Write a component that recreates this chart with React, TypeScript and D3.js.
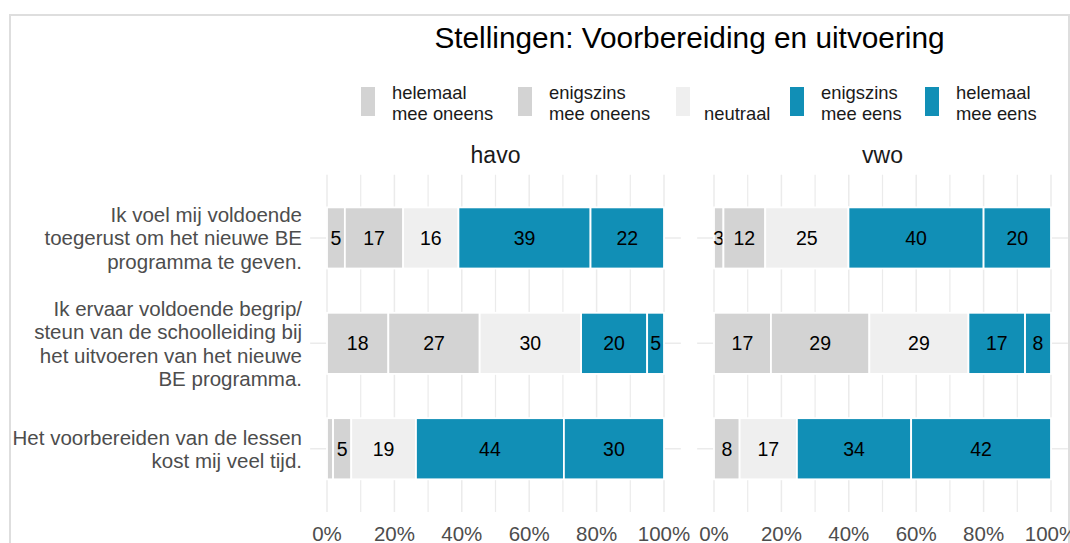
import React from "react";
import * as d3 from "d3";

// ---------- data ----------
const levels = [
  "helemaal mee oneens",
  "enigszins mee oneens",
  "neutraal",
  "enigszins mee eens",
  "helemaal mee eens",
];
const legendLabels = [
  ["helemaal", "mee oneens"],
  ["enigszins", "mee oneens"],
  ["", "neutraal"],
  ["enigszins", "mee eens"],
  ["helemaal", "mee eens"],
];
const levelColors = ["#d3d3d3", "#d3d3d3", "#efefef", "#118fb6", "#118fb6"];

const statements = ["s1", "s2", "s3"];
const statementLines = [
  ["Ik voel mij voldoende", "toegerust om het nieuwe BE", "programma te geven."],
  [
    "Ik ervaar voldoende begrip/",
    "steun van de schoolleiding bij",
    "het uitvoeren van het nieuwe",
    "BE programma.",
  ],
  ["Het voorbereiden van de lessen", "kost mij veel tijd."],
];

const facets = ["havo", "vwo"];
const havoValues = [
  [5.3, 17.3, 16.4, 39.2, 21.8],
  [18.2, 27.1, 30.1, 19.6, 5.0],
  [1.8, 5.4, 19.2, 43.9, 29.7],
];
const vwoValues = [
  [2.8, 12.4, 24.7, 40.1, 20.0],
  [16.9, 29.2, 29.4, 16.8, 7.7],
  [0, 7.6, 17.0, 33.9, 41.5],
];
const facetValues = [havoValues, vwoValues];

const xTicks = [0, 20, 40, 60, 80, 100];
const xMinorTicks = [10, 30, 50, 70, 90];
const title = "Stellingen: Voorbereiding en uitvoering";

// ---------- layout ----------
const W = 1070;
const H = 543;
const FONT = "'Liberation Sans', Arial, Helvetica, sans-serif";
const panelTop = 174.7;
const panelBottom = 512;
const facetRanges: [number, number][] = [
  [327, 664],
  [714, 1051],
];
const legendX = [361, 518, 676, 790, 925];
const gridColor = "#ebebeb";

export default function App() {
  const y = d3
    .scalePoint<string>()
    .domain(statements)
    .range([panelTop, panelBottom])
    .padding(0.6);
  const barH = y.step() * 0.58;

  return (
    <svg
      width={W}
      height={H}
      style={{ position: "absolute", left: 0, top: 0, background: "#fff" }}
      fontFamily={FONT}
    >
      <rect x={0} y={0} width={W} height={H} fill="#fff" />
      <rect x={10} y={15} width={1059} height={560} fill="none" stroke="#dedede" strokeWidth={2} />

      {/* title */}
      <text x={689.5} y={37} textAnchor="middle" dominantBaseline="central" fontSize={29.8} fill="#000">
        {title}
      </text>

      {/* legend */}
      {levels.map((lv, i) => (
        <g key={lv}>
          <rect x={legendX[i]} y={87} width={14} height={29} fill={levelColors[i]} />
          {legendLabels[i].map((t, j) => (
            <text
              key={j}
              x={legendX[i] + (i === 2 ? 28 : 31)}
              y={92 + j * 21}
              dominantBaseline="central"
              fontSize={18.4}
              fill="#1a1a1a"
            >
              {t}
            </text>
          ))}
        </g>
      ))}

      {/* y labels */}
      {statements.map((s, i) => {
        const lines = statementLines[i];
        const cy = y(s)!;
        return lines.map((ln, j) => (
          <text
            key={s + j}
            x={302}
            y={cy + (j - (lines.length - 1) / 2) * 23.5}
            textAnchor="end"
            dominantBaseline="central"
            fontSize={20.5}
            fill="#4d4d4d"
          >
            {ln}
          </text>
        ));
      })}

      {facets.map((f, fi) => {
        const x = d3.scaleLinear().domain([0, 100]).range(facetRanges[fi]);
        const left = x(-5);
        const right = x(105);
        const vals = facetValues[fi];
        return (
          <g key={f}>
            <text
              x={(left + right) / 2}
              y={155}
              textAnchor="middle"
              dominantBaseline="central"
              fontSize={23}
              fill="#1a1a1a"
            >
              {f}
            </text>
            {xMinorTicks.map((t) => (
              <line key={"m" + t} x1={x(t)} x2={x(t)} y1={panelTop} y2={panelBottom} stroke={gridColor} strokeWidth={1.2} />
            ))}
            {xTicks.map((t) => (
              <line key={"M" + t} x1={x(t)} x2={x(t)} y1={panelTop} y2={panelBottom} stroke={gridColor} strokeWidth={1.5} />
            ))}
            {statements.map((s) => (
              <line key={"h" + s} x1={left} x2={right} y1={y(s)} y2={y(s)} stroke={gridColor} strokeWidth={1.5} />
            ))}
            {statements.map((s, si) => {
              const row = vals[si];
              const total = d3.sum(row);
              const cum = d3.cumsum(row);
              return row.map((v, li) => {
                if (v <= 0) return null;
                const x0 = x(((cum[li] - v) / total) * 100);
                const x1 = x((cum[li] / total) * 100);
                const cy = y(s)!;
                return (
                  <g key={s + li}>
                    <rect
                      x={x0}
                      y={cy - barH / 2}
                      width={x1 - x0}
                      height={barH}
                      fill={levelColors[li]}
                      stroke="#fff"
                      strokeWidth={1.8}
                    />
                    {v >= 2.5 && (
                      <text
                        x={(x0 + x1) / 2}
                        y={cy}
                        textAnchor="middle"
                        dominantBaseline="central"
                        fontSize={19.5}
                        fill="#000"
                      >
                        {Math.round(v)}
                      </text>
                    )}
                  </g>
                );
              });
            })}
            {xTicks.map((t) => (
              <text
                key={"t" + t}
                x={x(t)}
                y={533}
                textAnchor="middle"
                dominantBaseline="central"
                fontSize={20.5}
                fill="#4d4d4d"
              >
                {t + "%"}
              </text>
            ))}
          </g>
        );
      })}
    </svg>
  );
}
